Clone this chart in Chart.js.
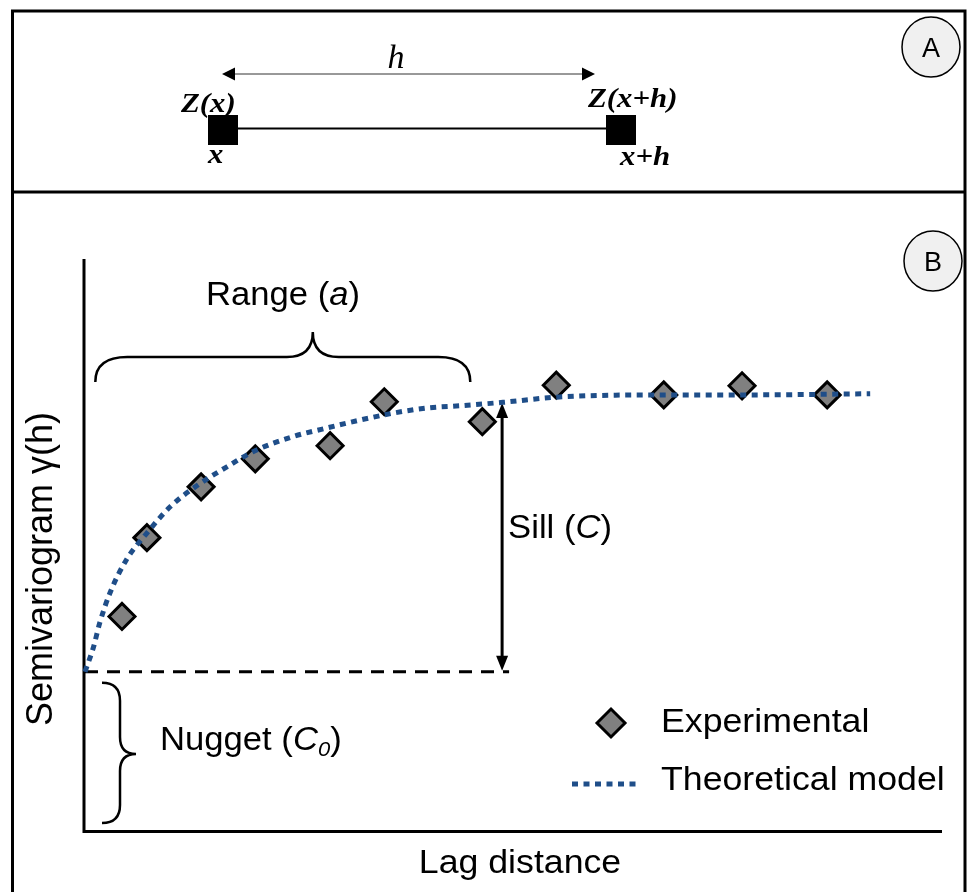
<!DOCTYPE html>
<html>
<head>
<meta charset="utf-8">
<title>Semivariogram</title>
<script src="https://cdn.jsdelivr.net/npm/chart.js@4.4.1/dist/chart.umd.min.js"></script>
<style>
  html, body { margin: 0; padding: 0; background: #fff; }
  #wrap { width: 968px; height: 892px; }
</style>
</head>
<body>
<div id="wrap"><canvas id="vario" width="968" height="892"></canvas></div>
<script>
// experimental semivariogram points (lag, gamma)
const lagExp = [0.43, 0.72, 1.35, 1.98, 2.85, 3.48, 4.62, 5.48, 6.73, 7.64, 8.63];
const gammaExp = [3.74, 5.12, 6.01, 6.50, 6.73, 7.50, 7.15, 7.79, 7.62, 7.78, 7.62];

// fitted model curve
const lagModel = [0, 0.10, 0.17, 0.29, 0.48, 0.72, 0.99, 1.34, 1.65, 1.96, 2.42,
                  2.81, 3.20, 3.58, 3.97, 4.36, 4.86, 5.48, 6.72, 7.69, 9.13];
const gammaModel = [2.77, 3.21, 3.62, 4.15, 4.73, 5.20, 5.66, 6.07, 6.36, 6.63, 6.89,
                    7.04, 7.18, 7.30, 7.39, 7.43, 7.49, 7.58, 7.62, 7.62, 7.64];

// model parameters marked on the plot
const nugget = 2.77;
const rangeLag = 4.48;
const sillLag = 4.85;
const sillTop = 7.48;

const seriesLabels = ['Experimental', 'Theoretical model'];
const xTitle = 'Lag distance';
const yTitle = 'Semivariogram \u03b3(h)';

const BLUE = '#1f4e89';
const SANS = '"Liberation Sans", Arial, sans-serif';
const SERIF = '"Liberation Serif", "Times New Roman", serif';

// draws a row of text pieces (some italic / subscript), a bit wider than the font
function textRuns(ctx, parts, x, y, size, align, stretch) {
  stretch = stretch || 1.05;
  const fontFor = p => (p.it ? 'italic ' : '') + Math.round(p.sub ? size * 0.65 : size) + 'px ' + SANS;
  ctx.save();
  ctx.translate(x, y);
  ctx.scale(stretch, 1);
  ctx.textAlign = 'left';
  ctx.textBaseline = 'alphabetic';
  let w = 0;
  parts.forEach(p => { ctx.font = fontFor(p); w += ctx.measureText(p.t).width; });
  let cx = align === 'center' ? -w / 2 : 0;
  parts.forEach(p => {
    ctx.font = fontFor(p);
    ctx.fillText(p.t, cx, p.sub ? size * 0.18 : 0);
    cx += ctx.measureText(p.t).width;
  });
  ctx.restore();
}

function serifLabel(ctx, str, x, y) {
  ctx.save();
  ctx.translate(x, y);
  ctx.scale(1.1, 1);
  ctx.font = 'italic bold 28px ' + SERIF;
  ctx.textAlign = 'left';
  ctx.textBaseline = 'alphabetic';
  ctx.fillText(str, 0, 0);
  ctx.restore();
}

function arrowHead(ctx, x, y, dx, dy, len, half) {
  // tip at (x, y), pointing along (dx, dy)
  ctx.beginPath();
  ctx.moveTo(x, y);
  ctx.lineTo(x - dx * len - dy * half, y - dy * len + dx * half);
  ctx.lineTo(x - dx * len + dy * half, y - dy * len - dx * half);
  ctx.closePath();
  ctx.fill();
}

function circleTag(ctx, letter, cx, cy) {
  ctx.save();
  ctx.beginPath();
  ctx.ellipse(cx, cy, 29, 30, 0, 0, Math.PI * 2);
  ctx.fillStyle = '#f0f0f0';
  ctx.fill();
  ctx.lineWidth = 1.5;
  ctx.strokeStyle = '#000';
  ctx.stroke();
  ctx.fillStyle = '#000';
  ctx.font = '27px ' + SANS;
  ctx.textAlign = 'center';
  ctx.textBaseline = 'alphabetic';
  ctx.fillText(letter, cx, cy + 10);
  ctx.restore();
}

// frames, panel A sketch and labels
const framePlugin = {
  id: 'frame',
  beforeDraw(chart) {
    const ctx = chart.ctx;
    ctx.save();
    ctx.strokeStyle = '#000';
    ctx.lineWidth = 3;
    ctx.strokeRect(12.5, 11, 952.5, 900);
    ctx.beginPath();
    ctx.moveTo(12, 192);
    ctx.lineTo(966, 192);
    ctx.stroke();

    // panel A: two samples separated by h
    ctx.fillStyle = '#000';
    ctx.fillRect(208, 115, 30, 30);
    ctx.fillRect(606, 115, 30, 30);
    ctx.lineWidth = 2;
    ctx.beginPath();
    ctx.moveTo(238, 128.5);
    ctx.lineTo(606, 128.5);
    ctx.stroke();

    ctx.lineWidth = 1;
    ctx.strokeStyle = '#333';
    ctx.beginPath();
    ctx.moveTo(232, 74);
    ctx.lineTo(585, 74);
    ctx.stroke();
    arrowHead(ctx, 222, 74, -1, 0, 13, 6.5);
    arrowHead(ctx, 595, 74, 1, 0, 13, 6.5);

    ctx.font = 'italic 34px ' + SERIF;
    ctx.textAlign = 'center';
    ctx.fillText('h', 396, 68);

    serifLabel(ctx, 'Z(x)', 181, 112);
    serifLabel(ctx, 'Z(x+h)', 588, 107);
    serifLabel(ctx, 'x', 208, 163);
    serifLabel(ctx, 'x+h', 620, 165);

    circleTag(ctx, 'A', 931, 47);
    circleTag(ctx, 'B', 933, 261);
    ctx.restore();
  },
  beforeDatasetsDraw(chart) {
    const ctx = chart.ctx;
    const xs = chart.scales.x, ys = chart.scales.y;
    const area = chart.chartArea;
    ctx.save();
    ctx.strokeStyle = '#000';
    ctx.fillStyle = '#000';

    // axes
    ctx.lineWidth = 3;
    ctx.beginPath();
    ctx.moveTo(area.left - 1, area.top);
    ctx.lineTo(area.left - 1, area.bottom + 1.5);
    ctx.lineTo(area.right - 3, area.bottom + 1.5);
    ctx.stroke();

    // nugget level
    const yN = ys.getPixelForValue(nugget);
    const xSill = xs.getPixelForValue(sillLag);
    ctx.setLineDash([13, 9]);
    ctx.beginPath();
    ctx.moveTo(area.left, yN);
    ctx.lineTo(xSill + 7, yN);
    ctx.stroke();
    ctx.setLineDash([]);

    // sill arrow
    const yS = ys.getPixelForValue(sillTop);
    ctx.beginPath();
    ctx.moveTo(xSill, yS + 10);
    ctx.lineTo(xSill, yN - 10);
    ctx.stroke();
    arrowHead(ctx, xSill, yS, 0, -1, 15, 6);
    arrowHead(ctx, xSill, yN - 1, 0, 1, 15, 6);

    // range brace
    ctx.lineWidth = 2.5;
    const bx0 = xs.getPixelForValue(0.12), bx1 = xs.getPixelForValue(rangeLag);
    const bm = (bx0 + bx1) / 2 + 30;
    const by = 357;
    ctx.beginPath();
    ctx.moveTo(bx0, by + 25);
    ctx.quadraticCurveTo(bx0, by, bx0 + 32, by);
    ctx.lineTo(bm - 26, by);
    ctx.quadraticCurveTo(bm, by, bm, by - 25);
    ctx.quadraticCurveTo(bm, by, bm + 26, by);
    ctx.lineTo(bx1 - 32, by);
    ctx.quadraticCurveTo(bx1, by, bx1, by + 25);
    ctx.stroke();

    // nugget brace
    const nx = 120, top = yN + 11, bot = ys.getPixelForValue(0) - 7;
    const mid = (top + bot) / 2 + 1;
    ctx.beginPath();
    ctx.moveTo(nx - 18, top);
    ctx.quadraticCurveTo(nx, top, nx, top + 18);
    ctx.lineTo(nx, mid - 17);
    ctx.quadraticCurveTo(nx, mid, nx + 16, mid);
    ctx.quadraticCurveTo(nx, mid, nx, mid + 17);
    ctx.lineTo(nx, bot - 18);
    ctx.quadraticCurveTo(nx, bot, nx - 18, bot);
    ctx.stroke();

    // annotation text
    textRuns(ctx, [{ t: 'Range (' }, { t: 'a', it: true }, { t: ')' }], 206, 305, 33);
    textRuns(ctx, [{ t: 'Sill (' }, { t: 'C', it: true }, { t: ')' }], xSill + 6, 538, 33);
    textRuns(ctx, [{ t: 'Nugget (' }, { t: 'C', it: true }, { t: '0', it: true, sub: true }, { t: ')' }], 160, 750, 33);
    ctx.restore();
  },
  afterDraw(chart) {
    const ctx = chart.ctx;
    const dsPts = chart.data.datasets[1];
    const dsLine = chart.data.datasets[0];
    ctx.save();

    // legend
    ctx.fillStyle = dsPts.backgroundColor;
    ctx.strokeStyle = dsPts.borderColor;
    ctx.lineWidth = 3;
    Chart.helpers.drawPoint(ctx, { pointStyle: 'rectRot', radius: 14, borderWidth: 3, rotation: 0 }, 611, 723);

    ctx.strokeStyle = dsLine.borderColor;
    ctx.lineWidth = dsLine.borderWidth;
    ctx.setLineDash(dsLine.borderDash);
    ctx.beginPath();
    ctx.moveTo(572, 784);
    ctx.lineTo(638, 784);
    ctx.stroke();
    ctx.setLineDash([]);

    ctx.fillStyle = '#000';
    textRuns(ctx, [{ t: seriesLabels[0] }], 661, 732, 34);
    textRuns(ctx, [{ t: seriesLabels[1] }], 661, 790, 34);

    // axis titles
    textRuns(ctx, [{ t: xTitle }], 520, 873, 34, 'center');
    ctx.save();
    ctx.translate(52, 569);
    ctx.rotate(-Math.PI / 2);
    ctx.font = '36px ' + SANS;
    ctx.textAlign = 'center';
    ctx.textBaseline = 'alphabetic';
    ctx.fillText(yTitle, 0, 0);
    ctx.restore();

    ctx.restore();
  }
};

new Chart(document.getElementById('vario'), {
  type: 'scatter',
  data: {
    datasets: [
      {
        type: 'line',
        label: seriesLabels[1],
        data: lagModel.map((x, i) => ({ x: x, y: gammaModel[i] })),
        borderColor: BLUE,
        borderWidth: 5,
        borderDash: [6, 5.5],
        borderCapStyle: 'butt',
        cubicInterpolationMode: 'monotone',
        pointRadius: 0,
        fill: false,
        clip: false,
        order: 0
      },
      {
        label: seriesLabels[0],
        data: lagExp.map((x, i) => ({ x: x, y: gammaExp[i] })),
        pointStyle: 'rectRot',
        pointRadius: 13,
        pointHoverRadius: 13,
        borderWidth: 3,
        backgroundColor: '#808080',
        borderColor: '#000',
        clip: false,
        order: 1
      }
    ]
  },
  options: {
    responsive: false,
    animation: false,
    events: [],
    layout: { padding: { left: 85, right: 23, top: 259, bottom: 62 } },
    scales: {
      x: { type: 'linear', min: 0, max: 10, display: false },
      y: { type: 'linear', min: 0, max: 10, display: false }
    },
    plugins: {
      legend: { display: false },
      tooltip: { enabled: false }
    }
  },
  plugins: [framePlugin]
});
</script>
</body>
</html>
